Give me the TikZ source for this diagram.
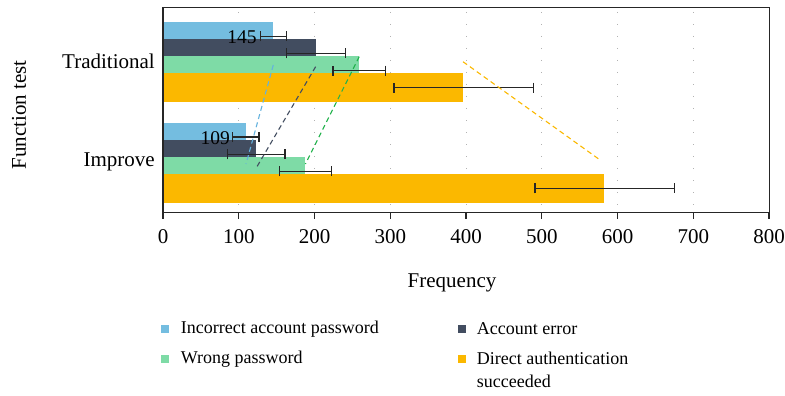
\documentclass[tikz,border=0pt]{standalone}
\usepackage{fontspec}
\setmainfont{Liberation Serif}
\usetikzlibrary{arrows.meta}
\definecolor{barblue}{RGB}{116,189,224}
\definecolor{bardark}{RGB}{66,77,96}
\definecolor{bargreen}{RGB}{126,219,166}
\definecolor{barorange}{RGB}{251,184,0}
\definecolor{lineblue}{RGB}{100,178,222}
\definecolor{linegreen}{RGB}{34,178,76}
\tikzset{
  errbar/.style={black!85, line width=1.5pt, {Bar[width=10pt]}-{Bar[width=10pt]}},
  trendline/.style={line width=1.1pt, dash pattern=on 5pt off 3.5pt},
  gridline/.style={gray!60, line width=0.9pt, dash pattern=on 0.9pt off 11.1pt},
  lbl/.style={font=\fontsize{21}{24}\selectfont, inner sep=0pt},
  vallbl/.style={font=\fontsize{19.5}{22}\selectfont, inner sep=0pt, anchor=east},
  leglbl/.style={font=\fontsize{18}{22.7}\selectfont, inner sep=0pt},
}
\begin{document}
\begin{tikzpicture}[x=1pt, y=-1pt]
  \def\bh{28.4}
  \useasboundingbox (0,0) rectangle (785,396);

  % plot area, values 0..800
  \begin{scope}[xshift=163pt, x=0.7575pt]
    \foreach \v in {100,200,...,700}
      \draw[gridline] (\v,12) -- (\v,212.7);

    % Traditional
    \fill[barblue]   (0,22.3)  rectangle (145.6,22.3+\bh);
    \fill[bardark]   (0,39.3)  rectangle (201.5,39.3+\bh);
    \fill[bargreen]  (0,56.0)  rectangle (259,56.0+\bh);
    \fill[barorange] (0,73.3)  rectangle (396.5,73.3+\bh);
    % Improve
    \fill[barblue]   (0,123.3) rectangle (109.6,123.3+\bh);
    \fill[bardark]   (0,140.0) rectangle (122.8,140.0+\bh);
    \fill[bargreen]  (0,157.0) rectangle (188,157.0+\bh);
    \fill[barorange] (0,174.3) rectangle (582.6,174.3+\bh);

    % error bars
    \draw[errbar] (128,36.5)  -- (164,36.5);
    \draw[errbar] (162,53.3)  -- (241.6,53.3);
    \draw[errbar] (223.5,70.7) -- (294.4,70.7);
    \draw[errbar] (304,87.7)  -- (490,87.7);
    \draw[errbar] (91,137)    -- (128,137);
    \draw[errbar] (84,154.3)  -- (162,154.3);
    \draw[errbar] (152.7,171.3) -- (223.5,171.3);
    \draw[errbar] (490,188.3) -- (676,188.3);

    \node[vallbl] (val145) at (123.7,37) {145};
    \node[vallbl] (val109) at (88.4,138) {109};

    % trend lines between groups
    \coordinate (tblue)   at (145.6,65);
    \coordinate (iblue)   at (109.6,164);
    \coordinate (tdark)   at (201.5,66.7);
    \coordinate (idark)   at (122.8,168.3);
    \coordinate (tgreen)  at (259,56.7);
    \coordinate (igreen)  at (188,164);
    \coordinate (torange) at (396,61.7);
    \coordinate (iorange) at (577,160);
    \draw[trendline, lineblue]  (tblue) -- (iblue);
    \draw[trendline, bardark]   (tdark) -- (idark);
    \draw[trendline, linegreen] (tgreen) -- (igreen);
    \draw[trendline, barorange] (torange) -- (iorange);

    % axis
    \foreach \v in {0,100,...,800} {
      \draw[black!85, line width=1.2pt] (\v,212.7) -- (\v,219);
      \node[lbl] (tick\v) at (\v,236.7) {\v};
    }
  \end{scope}

  \draw[black!85, line width=1.2pt] (163,7.5) rectangle (769.3,212.7);

  \node[lbl, anchor=east] (trad) at (155,61) {Traditional};
  \node[lbl, anchor=east] (impr) at (155,162) {Improve};
  \node[lbl, rotate=90] (ylabel) at (19,115) {Function test};
  \node[lbl] (xlabel) at (452,283) {Frequency};

  % legend
  \fill[barblue]   (161,325) rectangle (169,333);
  \fill[bargreen]  (161,355) rectangle (169,363);
  \fill[bardark]   (457.7,325) rectangle (465.7,333);
  \fill[barorange] (457.7,355) rectangle (465.7,363);
  \node[leglbl, anchor=west] (leg1) at (180.7,329) {Incorrect account password};
  \node[leglbl, anchor=west] (leg2) at (180.7,359) {Wrong password};
  \node[leglbl, anchor=west] (leg3) at (476.7,329) {Account error};
  \node[leglbl, anchor=north west, align=left] (leg4) at (476.7,352)
    {Direct authentication\\succeeded};
\end{tikzpicture}
\end{document}
